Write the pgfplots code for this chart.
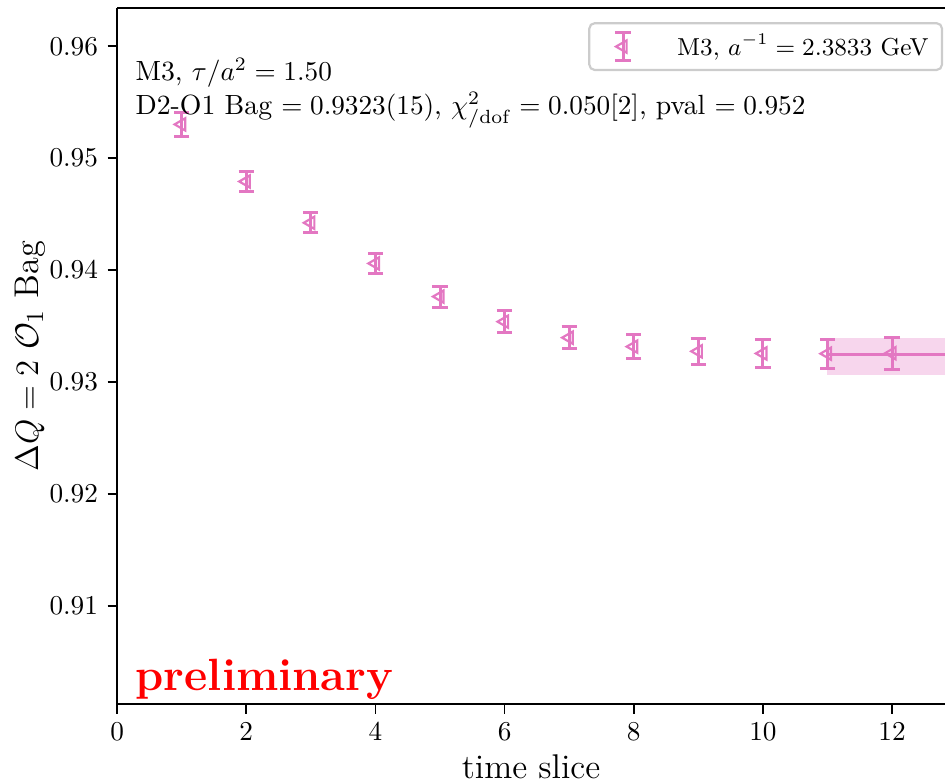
\documentclass[border=0pt]{standalone}
\usepackage{pgfplots}
\pgfplotsset{compat=1.18}
\definecolor{tabpink}{RGB}{227,119,194}
\begin{document}
\begin{tikzpicture}
\begin{axis}[
    name=ax,
    scale only axis,
    width=304pt, height=255.5pt,
    xmin=0, xmax=12.82,
    ymin=0.90125, ymax=0.96340,
    axis x line*=bottom, axis y line*=left,
    axis line style={line width=0.6pt, black, -},
    tick align=outside,
    major tick length=3.5pt,
    tick style={black, line width=0.6pt},
    xtick={0,2,4,6,8,10,12},
    ytick={0.91,0.92,0.93,0.94,0.95,0.96},
    yticklabel style={/pgf/number format/.cd, fixed, fixed zerofill, precision=2},
    xlabel={time slice},
    ylabel={$\Delta Q = 2\ \mathcal{O}_1$ Bag},
    label style={font=\fontsize{12.6}{15}\selectfont},
    ylabel style={at={(rel axis cs:-0.1053,0.5)}, anchor=center},
    xlabel style={at={(rel axis cs:0.5,-0.0908)}, anchor=center},
    clip mode=individual,
    legend style={at={(0.9977,0.98)}, anchor=north east, draw=black!20,
        line width=0.8pt, rounded corners=2pt, font=\fontsize{9}{11}\selectfont,
        inner xsep=3pt, inner ysep=2pt},
    legend cell align=left,
]
% fit band and central value
\addplot[fill=tabpink, fill opacity=0.3, draw=none, forget plot] coordinates {
    (11,0.93063) (12.82,0.93063) (12.82,0.93394) (11,0.93394)} -- cycle;
\addplot[tabpink, line width=1.1pt, forget plot] coordinates {
    (11,0.93251) (12.82,0.93251)};
% data
\addplot[tabpink, only marks, mark=triangle, mark size=2.6pt,
    mark options={rotate=90, line width=0.8pt},
    error bars/y dir=both, error bars/y explicit,
    error bars/error bar style={line width=1.1pt},
    error bars/error mark options={rotate=90, tabpink, line width=1.1pt, mark size=2.8pt},
    legend image code/.code={
        \path (0pt,0pt);
        \draw[tabpink, line width=1.1pt] (9pt,-5pt) -- (9pt,5pt)
            (9pt-2.8pt,-5pt) -- (9pt+2.8pt,-5pt)
            (9pt-2.8pt,5pt) -- (9pt+2.8pt,5pt);
        \draw[tabpink, mark=triangle, mark size=2.6pt,
            mark options={rotate=90, line width=0.8pt}] plot coordinates {(9pt,0pt)};
    },
] coordinates {
    (1,0.95302) +- (0,0.00106)
    (2,0.94792) +- (0,0.00090)
    (3,0.94423) +- (0,0.00090)
    (4,0.94060) +- (0,0.00092)
    (5,0.93764) +- (0,0.00094)
    (6,0.93540) +- (0,0.00097)
    (7,0.93397) +- (0,0.00100)
    (8,0.93317) +- (0,0.00110)
    (9,0.93275) +- (0,0.00116)
    (10,0.93256) +- (0,0.00127)
    (11,0.93254) +- (0,0.00130)
    (12,0.93258) +- (0,0.00143)
};
\addlegendentry{\hspace{14.5pt}M3, $a^{-1} = 2.3833$ GeV}
\node[anchor=base west, inner sep=0pt, font=\fontsize{10.2}{12}\selectfont]
    at (rel axis cs:0.0217,0.8964) {M3, $\tau/a^2 = 1.50$};
\node[anchor=base west, inner sep=0pt, font=\fontsize{10.2}{12}\selectfont]
    at (rel axis cs:0.0217,0.8475)
    {D2-O1 Bag $= 0.9323(15)$, $\chi^2_{/\mathrm{dof}} = 0.050[2]$, pval $= 0.952$};
\node[anchor=base west, inner sep=0pt, text=red, font=\fontsize{16.6}{19}\selectfont\bfseries]
    at (rel axis cs:0.0217,0.0187) {preliminary};
\end{axis}
\draw[line width=0.6pt] (ax.north west) -- (ax.north east);
\pgfresetboundingbox
\path ([xshift=-43pt,yshift=-28.7pt]ax.south west) rectangle ([yshift=3pt]ax.north east);
\end{tikzpicture}
\end{document}
